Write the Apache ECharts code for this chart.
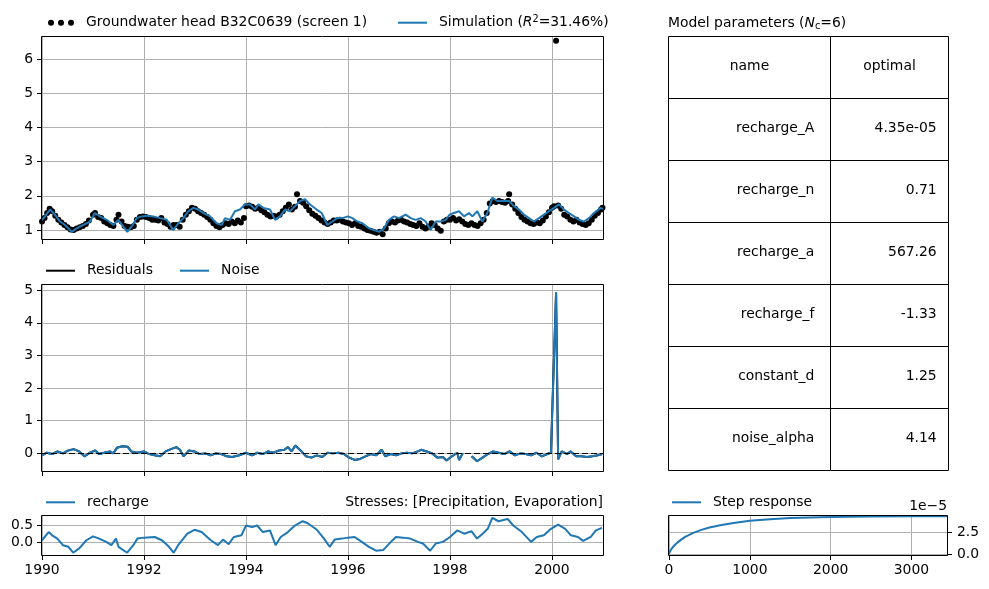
<!DOCTYPE html>
<html><head><meta charset="utf-8">
<script src="https://cdn.jsdelivr.net/npm/echarts@6/dist/echarts.min.js"></script>
<style>html,body{margin:0;padding:0;background:#fff}#c{width:989px;height:589px}</style>
</head><body><div id="c"></div>
<script>
// ---------------- DATA ----------------
const obsName = 'Groundwater head B32C0639 (screen 1)';
const simName = 'Simulation';
const yearTicks = [1990, 1992, 1994, 1996, 1998, 2000];
const headTicks = [1, 2, 3, 4, 5, 6];
const noiseTicks = [0, 1, 2, 3, 4, 5];
const rechargeTicks = [0, 0.5];
const stepXTicks = [0, 1000, 2000, 3000];
const stepYTicks = [0, 2.5e-5];

const simYears = [1990.000,1990.059,1990.157,1990.255,1990.353,1990.451,1990.582,1990.680,1990.810,1990.941,
1991.039,1991.137,1991.268,1991.399,1991.497,1991.595,1991.673,1991.758,1991.856,1991.954,
1992.052,1992.183,1992.314,1992.444,1992.575,1992.673,1992.771,1992.869,1992.967,1993.065,
1993.163,1993.294,1993.425,1993.523,1993.588,1993.686,1993.784,1993.882,1993.980,1994.078,
1994.176,1994.242,1994.340,1994.471,1994.569,1994.667,1994.765,1994.863,1994.961,1995.059,
1995.157,1995.255,1995.386,1995.484,1995.595,1995.693,1995.791,1995.889,1996.000,1996.085,
1996.183,1996.281,1996.412,1996.510,1996.608,1996.706,1996.804,1996.902,1997.000,1997.131,
1997.229,1997.327,1997.425,1997.523,1997.621,1997.719,1997.817,1997.915,1997.993,1998.078,
1998.176,1998.275,1998.373,1998.438,1998.536,1998.634,1998.732,1998.830,1998.928,1999.059,
1999.157,1999.255,1999.353,1999.451,1999.549,1999.647,1999.745,1999.843,1999.941,2000.039,
2000.137,2000.235,2000.333,2000.431,2000.529,2000.627,2000.725,2000.824,2000.954,2001.000];
const simValues = [1.30,1.40,1.60,1.45,1.25,1.15,0.95,1.05,1.15,1.25,
1.50,1.40,1.30,1.15,1.30,1.10,0.95,1.10,1.35,1.40,
1.42,1.40,1.35,1.30,1.00,1.20,1.35,1.55,1.65,1.60,
1.50,1.40,1.20,1.15,1.35,1.30,1.55,1.60,1.75,1.75,
1.60,1.75,1.65,1.60,1.30,1.40,1.60,1.55,1.70,1.85,
1.90,1.75,1.60,1.50,1.15,1.25,1.35,1.35,1.40,1.35,
1.25,1.20,1.05,1.00,0.95,1.05,1.30,1.40,1.35,1.45,
1.35,1.30,1.35,1.25,1.00,1.25,1.25,1.30,1.45,1.50,
1.55,1.40,1.50,1.40,1.55,1.25,1.50,1.95,1.85,1.85,
1.85,1.70,1.60,1.45,1.35,1.25,1.35,1.45,1.55,1.65,
1.75,1.60,1.50,1.40,1.30,1.25,1.35,1.50,1.65,1.62];

const obsYears = [
1990.00,1990.05,1990.10,1990.15,1990.20,1990.26,1990.32,1990.38,1990.44,1990.50,1990.56,1990.62,1990.68,1990.74,1990.80,1990.86,1990.92,
1991.00,1991.04,1991.10,1991.16,1991.22,1991.28,1991.34,1991.40,1991.46,1991.50,1991.56,1991.62,1991.68,1991.74,1991.80,1991.86,1991.92,1991.98,
1992.04,1992.10,1992.16,1992.22,1992.28,1992.34,1992.40,1992.46,1992.52,1992.58,1992.64,1992.70,1992.76,1992.82,1992.88,1992.94,
1993.00,1993.06,1993.12,1993.18,1993.24,1993.30,1993.36,1993.42,1993.48,1993.54,1993.60,1993.66,1993.72,1993.78,1993.84,1993.90,1993.96,
1994.00,1994.06,1994.12,1994.18,1994.24,1994.30,1994.36,1994.42,1994.48,1994.54,1994.60,1994.66,1994.72,1994.78,1994.84,1994.90,1994.96,
1995.00,1995.06,1995.12,1995.18,1995.24,1995.30,1995.36,1995.42,1995.48,1995.54,1995.60,1995.66,1995.72,1995.78,1995.84,1995.90,1995.96,
1996.02,1996.08,1996.14,1996.20,1996.26,1996.32,1996.38,1996.44,1996.50,1996.56,1996.62,1996.68,1996.74,1996.80,1996.86,1996.92,1996.98,
1997.04,1997.10,1997.16,1997.22,1997.28,1997.34,1997.40,1997.46,1997.52,1997.58,1997.64,1997.70,1997.76,1997.82,1997.88,1997.94,
1998.00,1998.06,1998.12,1998.18,1998.24,1998.30,1998.36,1998.42,1998.48,1998.54,1998.60,1998.66,1998.72,1998.78,1998.84,1998.90,1998.96,
1999.02,1999.08,1999.14,1999.16,1999.22,1999.28,1999.34,1999.40,1999.46,1999.52,1999.58,1999.64,1999.70,1999.76,1999.82,1999.88,1999.94,
2000.00,2000.04,2000.08,2000.12,2000.18,2000.24,2000.30,2000.36,2000.42,2000.48,2000.54,2000.60,2000.66,2000.72,2000.78,2000.84,2000.90,2000.96,2000.99];
const obsValues = [
1.25,1.35,1.50,1.62,1.55,1.42,1.30,1.22,1.15,1.08,1.02,1.00,1.05,1.08,1.12,1.18,1.28,
1.45,1.50,1.38,1.35,1.25,1.20,1.15,1.12,1.30,1.45,1.25,1.12,1.10,1.08,1.12,1.30,1.38,1.40,
1.38,1.35,1.30,1.30,1.28,1.35,1.22,1.18,1.10,1.15,1.15,1.10,1.30,1.45,1.55,1.65,
1.62,1.55,1.50,1.45,1.38,1.30,1.20,1.12,1.08,1.15,1.20,1.18,1.25,1.20,1.28,1.22,1.35,
1.70,1.72,1.68,1.62,1.65,1.58,1.52,1.45,1.40,1.42,1.40,1.45,1.55,1.65,1.75,1.60,1.68,
2.05,1.85,1.80,1.70,1.58,1.48,1.42,1.35,1.28,1.22,1.18,1.22,1.28,1.28,1.30,1.25,1.22,
1.20,1.15,1.20,1.12,1.10,1.05,1.00,0.98,0.95,0.92,0.95,0.88,1.05,1.20,1.25,1.22,1.28,
1.30,1.25,1.22,1.18,1.15,1.12,1.20,1.10,1.05,1.10,1.20,1.15,1.05,0.98,1.25,1.30,
1.30,1.35,1.28,1.32,1.25,1.18,1.15,1.20,1.15,1.12,1.20,1.30,1.50,1.78,1.85,1.82,1.85,
1.82,1.80,1.85,2.05,1.75,1.62,1.50,1.38,1.30,1.25,1.20,1.18,1.22,1.20,1.28,1.40,1.52,
1.65,1.70,6.53,1.72,1.62,1.45,1.40,1.30,1.25,1.30,1.22,1.18,1.15,1.20,1.30,1.42,1.50,1.60,1.65];

const noiseYears = [1990.000,1990.092,1990.198,1990.304,1990.410,1990.516,1990.621,1990.727,1990.833,1990.939,
1991.045,1991.116,1991.222,1991.328,1991.398,1991.469,1991.575,1991.681,1991.751,1991.857,
1991.999,1992.105,1992.210,1992.316,1992.422,1992.528,1992.634,1992.705,1992.775,1992.881,
1992.987,1993.093,1993.199,1993.305,1993.411,1993.517,1993.623,1993.729,1993.870,1993.997,
1994.117,1994.223,1994.329,1994.435,1994.541,1994.647,1994.753,1994.823,1994.894,1994.965,
1995.071,1995.177,1995.282,1995.388,1995.494,1995.600,1995.706,1995.812,1995.918,1996.024,
1996.130,1996.236,1996.342,1996.448,1996.554,1996.660,1996.730,1996.836,1996.942,1997.048,
1997.154,1997.260,1997.366,1997.436,1997.542,1997.648,1997.754,1997.860,1997.931,1998.037,
1998.143,1998.178,1998.249,1998.330,1998.425,1998.531,1998.637,1998.743,1998.849,1998.955,
1999.061,1999.167,1999.273,1999.379,1999.484,1999.590,1999.696,1999.802,1999.908,1999.979,
2000.010,2000.080,2000.120,2000.191,2000.297,2000.367,2000.473,2000.579,2000.685,2000.791,
2000.897,2000.982];
const noiseValues = [-0.06,0.02,-0.02,0.06,0.00,0.09,0.13,0.06,-0.09,0.02,
0.09,-0.02,0.02,0.06,0.00,0.17,0.22,0.20,0.06,0.02,
0.06,-0.02,-0.06,-0.09,0.06,0.13,0.19,0.11,-0.09,0.09,
0.06,-0.02,0.00,-0.06,0.00,-0.02,-0.09,-0.11,-0.06,0.02,
-0.06,0.02,-0.02,0.06,0.02,0.09,0.11,0.19,0.06,0.24,
0.09,-0.09,-0.13,-0.06,-0.11,0.02,0.00,0.02,-0.02,-0.13,
-0.20,-0.17,-0.09,-0.02,-0.06,0.11,-0.09,-0.02,-0.06,0.00,
0.02,0.00,0.06,0.11,0.06,0.00,-0.13,-0.11,-0.22,-0.09,
0.02,-0.20,0.00,'-',-0.09,-0.24,-0.13,-0.02,0.06,0.02,
-0.02,0.06,-0.06,0.00,-0.02,-0.06,0.02,-0.09,-0.02,0.02,
0.03,4.93,-0.18,0.06,-0.02,0.06,-0.09,-0.09,-0.11,-0.09,
-0.06,-0.02];
const residualYears = noiseYears;
const residualValues = noiseValues;

const rechargeYears = [1990.00,1990.13,1990.20,1990.30,1990.41,1990.52,1990.61,1990.73,1990.87,1991.00,
1991.12,1991.26,1991.36,1991.45,1991.50,1991.67,1991.79,1991.87,1992.00,1992.21,
1992.35,1992.49,1992.58,1992.67,1992.85,1992.99,1993.13,1993.31,1993.45,1993.55,
1993.66,1993.76,1993.91,1994.00,1994.12,1994.22,1994.33,1994.47,1994.58,1994.68,
1994.82,1994.96,1995.11,1995.21,1995.39,1995.53,1995.64,1995.74,1995.88,1996.00,
1996.13,1996.27,1996.41,1996.55,1996.69,1996.84,1996.94,1997.08,1997.22,1997.37,
1997.47,1997.61,1997.72,1997.86,1998.00,1998.14,1998.28,1998.42,1998.53,1998.64,
1998.74,1998.83,1998.95,1999.13,1999.24,1999.41,1999.59,1999.70,1999.84,1999.98,
2000.12,2000.26,2000.37,2000.51,2000.61,2000.76,2000.86,2000.98];
const rechargeValues = [0.05,0.30,0.20,0.10,-0.10,-0.15,-0.33,-0.20,0.05,0.17,
0.10,0.00,-0.10,0.10,-0.15,-0.33,-0.10,0.10,0.13,0.15,
0.05,-0.15,-0.33,-0.10,0.25,0.37,0.30,0.05,-0.10,0.07,
-0.07,0.15,0.20,0.50,0.45,0.50,0.30,0.35,-0.10,0.15,
0.30,0.50,0.63,0.57,0.37,0.10,-0.15,0.07,0.10,0.13,
0.15,0.00,-0.15,-0.27,-0.25,0.00,0.15,0.13,0.10,0.00,
-0.05,-0.27,-0.05,0.00,0.15,0.35,0.25,0.33,0.10,0.25,
0.40,0.73,0.63,0.70,0.50,0.30,0.00,0.15,0.20,0.40,
0.53,0.40,0.20,0.15,0.03,0.15,0.35,0.43];

const stepTimes = [0,10,25,50,75,100,150,200,300,400,500,650,800,1000,1250,1500,2000,2500,3000,3440];
const stepValues = [0,0.27e-5,0.51e-5,0.82e-5,1.07e-5,1.29e-5,1.66e-5,1.98e-5,2.44e-5,2.78e-5,3.05e-5,3.35e-5,3.58e-5,3.83e-5,4.01e-5,4.13e-5,4.26e-5,4.31e-5,4.33e-5,4.34e-5];

const tableHeader = ['name', 'optimal'];
const paramNames = ['recharge_A','recharge_n','recharge_a','recharge_f','constant_d','noise_alpha'];
const paramOptimal = ['4.35e-05','0.71','567.26','-1.33','1.25','4.14'];

// ---------------- CHART ----------------
const FONT = 'DejaVu Sans', FS = 13.9, BLUE = '#1f77b4';
const pairs = (xs, ys) => xs.map((x, i) => [x, ys[i]]);
const chart = echarts.init(document.getElementById('c'), null, {renderer: 'canvas'});

const P = [ // panel boxes
  {left: 42, top: 37, width: 561, height: 202},
  {left: 42, top: 285, width: 561, height: 186},
  {left: 42, top: 516, width: 561, height: 39},
  {left: 669, top: 516, width: 278, height: 39}
];

const splitStyle = {show: true, lineStyle: {color: '#b0b0b0', width: 1}};
const tickStyle = (vals) => ({show: true, inside: false, length: 5, lineStyle: {color: '#000', width: 1}, customValues: vals});
const labelStyle = (vals, show, fmt, margin) => ({show: show, customValues: vals, formatter: fmt, margin: margin,
  fontFamily: FONT, fontSize: FS, color: '#000'});

function xAx(gi, min, max, ticks, showLab) {
  return {gridIndex: gi, type: 'value', min: min, max: max, position: 'bottom', axisLine: {show: false, onZero: false},
    axisTick: tickStyle(ticks), axisLabel: labelStyle(ticks, showLab, v => String(v), 8), splitLine: splitStyle};
}
function yAx(gi, min, max, ticks, fmt, pos) {
  return {gridIndex: gi, type: 'value', min: min, max: max, position: pos || 'left', axisLine: {show: false, onZero: false},
    axisTick: tickStyle(ticks), axisLabel: labelStyle(ticks, true, fmt, pos === 'right' ? 10 : 9), splitLine: splitStyle};
}

const legendBase = {orient: 'horizontal', padding: 0, itemGap: 0, selectedMode: false,
  textStyle: {fontFamily: FONT, fontSize: FS, color: '#000', lineHeight: 16, padding: [0, 0, 0, 7]}};
const lg = (name, left, cy, extra) => Object.assign({}, legendBase, {data: [name], left: left, top: cy - 8,
  icon: 'rect', itemWidth: 29, itemHeight: 2}, extra || {});

const dotsIcon = 'path://M0,3a3,3 0 1,0 6,0a3,3 0 1,0 -6,0ZM10,3a3,3 0 1,0 6,0a3,3 0 1,0 -6,0ZM20,3a3,3 0 1,0 6,0a3,3 0 1,0 -6,0Z';

// table graphics
const tg = [];
const colX = [668.5, 830.5], colW = [162, 118], rowH = 62, tableTop = 36.5;
const cellFont = FS + 'px "' + FONT + '"';
const rows = [tableHeader].concat(paramNames.map((n, i) => [n, paramOptimal[i]]));
rows.forEach((r, ri) => {
  for (let c = 0; c < 2; c++) {
    tg.push({type: 'rect', z: 50, shape: {x: colX[c], y: tableTop + ri * rowH, width: colW[c], height: rowH},
      style: {fill: 'none', stroke: '#000', lineWidth: 1}});
    const cy = tableTop + ri * rowH + rowH / 2 - 1.5;
    const isHead = ri === 0;
    tg.push({type: 'text', z: 51, x: isHead ? colX[c] + colW[c] / 2 : colX[c] + colW[c] * 0.9, y: cy,
      style: {text: r[c], font: cellFont, fill: '#000', align: isHead ? 'center' : 'right', verticalAlign: 'middle'}});
  }
});
// panel spines
P.forEach(p => tg.push({type: 'rect', z: 60, shape: {x: p.left - 0.5, y: p.top - 0.5, width: p.width + 1, height: p.height + 1},
  style: {fill: 'none', stroke: '#000', lineWidth: 1}}));
// texts
tg.push({type: 'text', z: 51, x: 668, y: 23, style: {text: 'Model parameters ({i|N}{sub|c}=6)', font: cellFont, fill: '#000',
  verticalAlign: 'middle', lineHeight: 16,
  rich: {i: {fontFamily: FONT, fontSize: FS, fontStyle: 'italic', lineHeight: 16},
         sub: {fontFamily: FONT, fontSize: 9.7, lineHeight: 16, verticalAlign: 'bottom'}}}});
tg.push({type: 'text', z: 51, x: 603, y: 502.5, style: {text: 'Stresses: [Precipitation, Evaporation]', font: cellFont,
  fill: '#000', align: 'right', verticalAlign: 'middle'}});
tg.push({type: 'text', z: 51, x: 947, y: 506.5, style: {text: '1e\u22125', font: cellFont, fill: '#000', align: 'right',
  verticalAlign: 'middle'}});

const option = {
  animation: false,
  backgroundColor: '#fff',
  grid: P.map(p => Object.assign({show: false, containLabel: false, outerBoundsMode: 'none'}, p)),
  xAxis: [xAx(0, 1990, 2001, yearTicks, false), xAx(1, 1990, 2001, yearTicks, false), xAx(2, 1990, 2001, yearTicks, true),
          xAx(3, 0, 3440, stepXTicks, true)],
  yAxis: [yAx(0, 0.74, 6.64, headTicks, v => String(v)),
          yAx(1, -0.54, 5.16, noiseTicks, v => String(v)),
          yAx(2, -0.40, 0.79, rechargeTicks, v => v.toFixed(1)),
          yAx(3, -0.1e-5, 4.37e-5, stepYTicks, v => (v / 1e-5).toFixed(1), 'right')],
  legend: [
    lg(obsName, 48, 22.7, {icon: dotsIcon, itemWidth: 26, itemHeight: 6}),
    lg(simName, 398, 22.7, {formatter: () => 'Simulation ({i|R}{s|2}=31.46%)',
      textStyle: Object.assign({}, legendBase.textStyle, {rich: {
        i: {fontFamily: FONT, fontSize: FS, fontStyle: 'italic', lineHeight: 16, color: '#000'},
        s: {fontFamily: FONT, fontSize: 9.7, lineHeight: 16, verticalAlign: 'top', color: '#000'}}})}),
    lg('Residuals', 46, 270.7),
    lg('Noise', 180, 270.7),
    lg('recharge', 46, 502.3),
    lg('Step response', 672, 502.3)
  ],
  graphic: {elements: tg},
  series: [
    {name: obsName, type: 'scatter', xAxisIndex: 0, yAxisIndex: 0, data: pairs(obsYears, obsValues),
      symbol: 'circle', symbolSize: 6, itemStyle: {color: '#000', opacity: 1}, emphasis: {disabled: true}, z: 2},
    {name: simName, type: 'line', xAxisIndex: 0, yAxisIndex: 0, data: pairs(simYears, simValues),
      showSymbol: false, symbol: 'none', lineStyle: {color: BLUE, width: 2}, itemStyle: {color: BLUE}, emphasis: {disabled: true}, z: 3},
    {name: 'Residuals', type: 'line', xAxisIndex: 1, yAxisIndex: 1, data: pairs(residualYears, residualValues),
      showSymbol: false, symbol: 'none', lineStyle: {color: '#000', width: 2}, itemStyle: {color: '#000'}, emphasis: {disabled: true}, z: 2},
    {name: 'Noise', type: 'line', xAxisIndex: 1, yAxisIndex: 1, data: pairs(noiseYears, noiseValues),
      showSymbol: false, symbol: 'none', connectNulls: false, lineStyle: {color: BLUE, width: 2}, itemStyle: {color: BLUE},
      emphasis: {disabled: true}, z: 3,
      markLine: {silent: true, symbol: 'none', label: {show: false}, animation: false,
        lineStyle: {color: '#000', type: [6, 3], width: 1}, emphasis: {disabled: true}, data: [{yAxis: 0}]}},
    {name: 'recharge', type: 'line', xAxisIndex: 2, yAxisIndex: 2, data: pairs(rechargeYears, rechargeValues),
      showSymbol: false, symbol: 'none', lineStyle: {color: BLUE, width: 2}, itemStyle: {color: BLUE}, emphasis: {disabled: true}},
    {name: 'Step response', type: 'line', xAxisIndex: 3, yAxisIndex: 3, data: pairs(stepTimes, stepValues),
      showSymbol: false, symbol: 'none', lineStyle: {color: BLUE, width: 2}, itemStyle: {color: BLUE}, emphasis: {disabled: true}}
  ]
};
chart.setOption(option);
</script></body></html>
